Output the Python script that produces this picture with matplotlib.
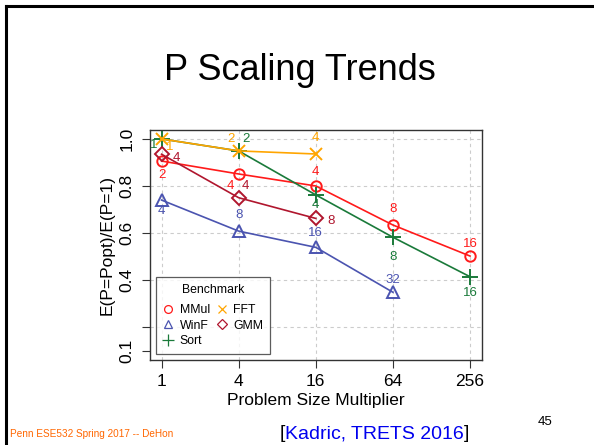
import matplotlib.pyplot as plt
import numpy as np

plt.rcParams['font.family'] = ['Liberation Sans', 'DejaVu Sans']

# problem size multipliers and normalized energy per benchmark
sizes = [1, 4, 16, 64, 256]
benchmarks = ['MMul', 'WinF', 'Sort', 'FFT', 'GMM']
mmul = [0.906, 0.851, 0.800, 0.634, 0.502]
winf = [0.740, 0.608, 0.539, 0.348]
sort = [1.000, 0.949, 0.762, 0.582, 0.414]
fft = [1.000, 0.949, 0.936]
gmm = [0.935, 0.750, 0.662]
# optimal P at each point
mmul_p = ['2', '4', '4', '8', '16']
winf_p = ['4', '8', '16', '32']
sort_p = ['1', '2', '4', '8', '16']
fft_p = ['1', '2', '4']
gmm_p = ['4', '4', '8']

yticks = [1.0, 0.8, 0.6, 0.4, 0.2, 0.1]
ytick_labels = ['1.0', '0.8', '0.6', '0.4', '', '0.1']

# label offsets (pixels, x right / y up)
offs = {
    'MMul': [(0, -14), (-8, -12), (0, 14), (0, 16), (0, 12)],
    'WinF': [(0, -11), (0, 16), (0, 14), (0, 12)],
    'Sort': [(-8, -6), (7, 12), (0, -10), (0, -20), (0, -16)],
    'FFT': [(8, -8), (-8, 12), (0, 16)],
    'GMM': [(15, -4), (7, 12), (15, -3)],
}
styles = {
    'MMul': dict(color='#FF1A1A', marker='o', ms=7.5),
    'WinF': dict(color='#4B54B0', marker='^', ms=8.5),
    'Sort': dict(color='#1A7A3A', marker='+', ms=11),
    'FFT': dict(color='#FFA500', marker='x', ms=8),
    'GMM': dict(color='#B0162E', marker='D', ms=7),
}
series = {'MMul': (mmul, mmul_p), 'WinF': (winf, winf_p), 'Sort': (sort, sort_p),
          'FFT': (fft, fft_p), 'GMM': (gmm, gmm_p)}

W, H = 594, 445
fig = plt.figure(figsize=(W / 100, H / 100), dpi=100)

# slide border
fig.add_artist(plt.Line2D([6 / W, 6 / W], [0, 1 - 6 / H], color='black', lw=2.2))
fig.add_artist(plt.Line2D([6 / W, 1], [1 - 6 / H, 1 - 6 / H], color='black', lw=2.2))

ax = fig.add_axes([150 / W, 1 - 360 / H, 332 / W, 230 / H])
ax.set_xscale('log', base=2)
ax.set_xlim(2 ** -0.30, 2 ** 8.31)
ax.set_ylim(0.06, 1.038)

for s in sizes:
    ax.axvline(s, color='#CCCCCC', lw=0.8, ls=(0, (3, 3)), zorder=0)
for t in yticks[:-1]:
    ax.axhline(t, color='#CCCCCC', lw=0.8, ls=(0, (3, 3)), zorder=0)

for name in benchmarks:
    vals, ps = series[name]
    st = styles[name]
    x = sizes[:len(vals)]
    ax.plot(x, vals, color=st['color'], lw=1.2, marker=st['marker'], ms=st['ms'],
            mfc='none', mew=1.4, label=name)
    for xi, yi, p, (dx, dy) in zip(x, vals, ps, offs[name]):
        ax.annotate(p, (xi, yi), xytext=(dx * 0.72, dy * 0.72), textcoords='offset points',
                    ha='center', va='center', fontsize=9.5, color=st['color'])

ax.set_xticks(sizes)
ax.set_xticklabels([str(s) for s in sizes])
ax.set_xticks([], minor=True)
ax.set_yticks(yticks)
ax.set_yticklabels(ytick_labels)
ax.tick_params(axis='both', direction='out', length=6, width=0.8, labelsize=12.5, color='#333333')
ax.tick_params(axis='x', pad=4)
ax.tick_params(axis='y', pad=5)
for lab in ax.get_yticklabels():
    lab.set_rotation(90)
    lab.set_va('center')
for sp in ax.spines.values():
    sp.set_linewidth(1.0)
    sp.set_color('#333333')

ax.set_xlabel('Problem Size Multiplier', fontsize=12.5, labelpad=3)
ax.set_ylabel('E(P=Popt)/E(P=1)', fontsize=12.5, labelpad=4)

leg = ax.legend(ncol=2, title='Benchmark', loc='lower left', bbox_to_anchor=(0.018, 0.026),
                borderaxespad=0, fancybox=False, edgecolor='#333333', fontsize=8.8,
                title_fontsize=8.8, handlelength=0.9, handletextpad=0.5, columnspacing=0.5,
                labelspacing=0.3, borderpad=0.55, markerscale=0.75)
leg.get_frame().set_linewidth(0.9)
leg._legend_box.sep = 6
for h in leg.legend_handles:
    h.set_linestyle('none')
    h.set_markeredgewidth(0.9)

fig.text(300 / W, 1 - 70 / H, 'P Scaling Trends', fontsize=26, ha='center', va='center')
fig.text(10 / W, 1 - 434 / H, 'Penn ESE532 Spring 2017 -- DeHon', fontsize=7.2,
         color='#FF6600', ha='left', va='center')
fig.text(545 / W, 1 - 422 / H, '45', fontsize=9.5, ha='center', va='center')

# citation: black brackets, blue text
fig.canvas.draw()
r = fig.canvas.get_renderer()
x0 = 280
parts = [('[', 'black'), ('Kadric, TRETS 2016', '#0000EE'), (']', 'black')]
for txt, col in parts:
    t = fig.text(x0 / W, 1 - 434 / H, txt, fontsize=14, color=col, ha='left', va='center')
    x0 += t.get_window_extent(renderer=r).width

fig.savefig('out.png', dpi=100)
